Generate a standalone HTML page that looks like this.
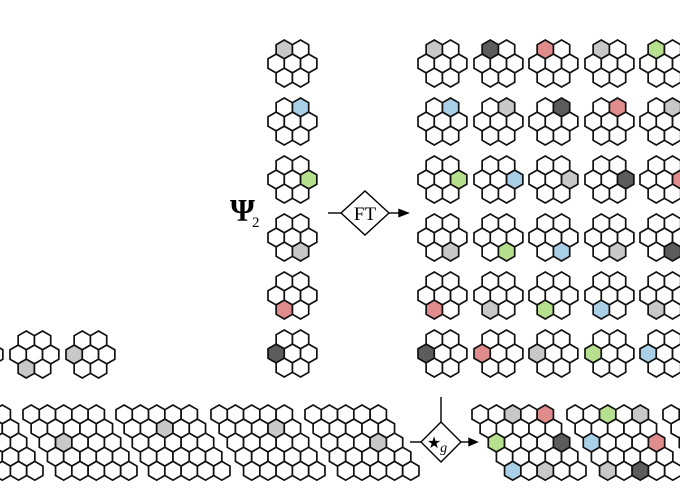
<!DOCTYPE html>
<html><head><meta charset="utf-8"><style>
html,body{margin:0;padding:0;background:#fff;}
svg{display:block;}
</style></head><body>
<svg id="fig" width="680" height="500" viewBox="0 0 680 500">
<text x="230" y="221" font-family="Liberation Serif, serif" font-size="32" font-weight="bold">Ψ<tspan font-size="15" font-weight="normal" dx="-3" dy="6">2</tspan></text>
<g stroke="#000" stroke-width="1.4" fill="none">
<line x1="328" y1="213" x2="341" y2="213"/>
<polygon points="341,213 365,191 389,213 365,235" fill="#fff"/>
<line x1="389" y1="213" x2="400" y2="213"/>
<polygon points="399,209.5 408,213 399,216.5" fill="#000"/>
</g>
<text x="365" y="220" text-anchor="middle" font-family="Liberation Serif, serif" font-size="19">FT</text>
<g stroke="#000" stroke-width="1.4" fill="none">
<line x1="441" y1="397" x2="441" y2="422"/>
<line x1="410" y1="442" x2="421" y2="442"/>
<polygon points="421,442 441,422 461,442 441,462" fill="#fff"/>
<line x1="461" y1="442" x2="470" y2="442"/>
<polygon points="469,438.5 477,442 469,445.5" fill="#000"/>
</g>
<text x="437" y="448" text-anchor="middle" font-family="DejaVu Sans, sans-serif" font-size="16">★<tspan font-family="Liberation Serif, serif" font-style="italic" font-size="14" dx="-1" dy="4">g</tspan></text>
<g id="hexes"></g>
</svg>
<script>
// cell index: 0 TL,1 TR,2 ML,3 C,4 MR,5 BL,6 BR
const leftColCells=[0,1,4,6,5,2];
const leftColColors=['g','b','n','g','r','d'];
const gridCells=[0,1,4,6,5,2];
const gridColors=[
 ['g','d','r','g','n'],
 ['b','g','d','r','g'],
 ['n','b','g','d','r'],
 ['g','n','b','g','d'],
 ['r','g','n','b','g'],
 ['d','r','g','n','b']];
const smallCells=[null,5,2];
const smallColors=['g','g','g'];
const leftParaMarks=[[1,2,1,'g'],[2,1,2,'g'],[3,1,3,'g'],[4,2,3,'g']];
const rightParaMarks=[[0,0,2,'g'],[0,0,4,'r'],[0,2,0,'n'],[0,2,4,'d'],[0,4,0,'b'],[0,4,2,'g'],
 [1,0,2,'n'],[1,0,4,'g'],[1,2,0,'b'],[1,2,4,'r'],[1,4,0,'g'],[1,4,2,'d']];

const COL={g:'#c8c8c8',d:'#5c5c5c',r:'#e08c8c',n:'#b6e08e',b:'#a9d0e6',w:'#fff'};
const R=9.4, W=Math.sqrt(3)*R;
const G=document.getElementById('hexes');
const NS='http://www.w3.org/2000/svg';
function hex(cx,cy,c,name){
  const p=document.createElementNS(NS,'polygon');
  const pts=[[0,-R],[W/2,-R/2],[W/2,R/2],[0,R],[-W/2,R/2],[-W/2,-R/2]].map(v=>(cx+v[0]).toFixed(2)+','+(cy+v[1]).toFixed(2)).join(' ');
  p.setAttribute('points',pts);
  p.setAttribute('fill',COL[c]);
  p.setAttribute('stroke','#111');
  p.setAttribute('stroke-width','1.7');
  
  
  G.appendChild(p);
}
function cluster(x0,y0,hi,c){
  const cs=[[x0+W,y0+R],[x0+2*W,y0+R],[x0+W/2,y0+2.5*R],[x0+1.5*W,y0+2.5*R],[x0+2.5*W,y0+2.5*R],[x0+W,y0+4*R],[x0+2*W,y0+4*R]];
  cs.forEach((p,i)=>hex(p[0],p[1],i===hi?c:'w','hex-cell'));
}
function para(x0,y0,marks){
  for(let i=0;i<5;i++)for(let j=0;j<5;j++){
    const m=marks.find(k=>k[0]===i&&k[1]===j);
    hex(x0+W/2+j*W+i*W/2,y0+R+1.5*R*i,m?m[2]:'w','hex-cell');
  }
}
const rowTops=[40,98,156,214,272,330];
const gridX=[418,474,529,585,640];
rowTops.forEach((y,r)=>{
  cluster(268,y,leftColCells[r],leftColColors[r]);
  gridX.forEach((x,c)=>cluster(x,y,gridCells[r],gridColors[r][c]));
});
[-46,10,66].forEach((x,i)=>cluster(x,331,smallCells[i],smallColors[i]));
[-71,23,116,211,305].forEach((x,k)=>para(x,405,leftParaMarks.filter(m=>m[0]===k).map(m=>[m[1],m[2],m[3]])));
[472,567,663].forEach((x,k)=>para(x,405,rightParaMarks.filter(m=>m[0]===k).map(m=>[m[1],m[2],m[3]])));
</script>
</body></html>
